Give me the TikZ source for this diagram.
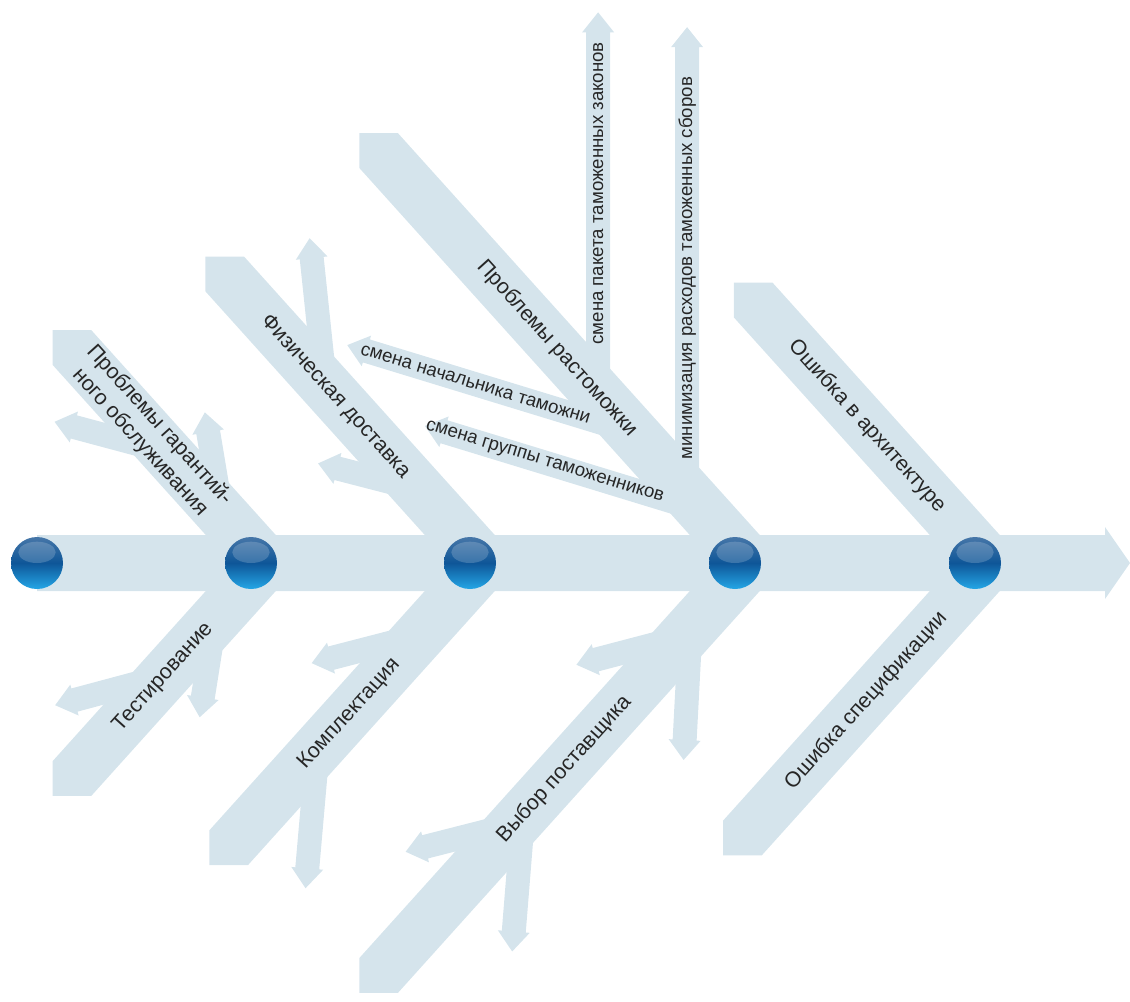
\documentclass[tikz,border=0pt]{standalone}
\usepackage{fontspec}
\setmainfont{Liberation Sans}
\usetikzlibrary{calc}

\definecolor{bonecol}{RGB}{213,228,236}
\definecolor{lblcol}{RGB}{38,38,38}
\definecolor{balltop}{RGB}{70,118,168}
\definecolor{ballmid}{RGB}{14,86,152}
\definecolor{ballbot}{RGB}{36,166,230}

\tikzset{
  bone/.style={fill=bonecol},
  bonelbl/.style={font=\fontsize{16}{19.5}\selectfont,text=lblcol,inner sep=0pt,align=center},
  twiglbl/.style={font=\fontsize{14}{16}\selectfont,text=lblcol,inner sep=0pt},
  ball/.style={circle,minimum size=39pt,inner sep=0pt,top color=balltop,bottom color=ballbot,middle color=ballmid,
    path picture={\fill[white,opacity=.18] ([yshift=8pt]path picture bounding box.center) ellipse (14pt and 8pt);}}
}

% bones: junction, length (pointed far end)
\newcommand\upbone[2]{%
  \path ($(#1)+(222:26)$) coordinate (ba) ++(132:#2) coordinate (ea)
        ($(#1)+(42:26)$) coordinate (bb) ++(132:#2) coordinate (eb);
  \fill[bone] (ba) -- (ea) -- (ea |- eb) -- (eb) -- (bb) -- cycle;}
\newcommand\lowbone[2]{%
  \path ($(#1)+(318:26)$) coordinate (ba) ++(228:#2) coordinate (ea)
        ($(#1)+(138:26)$) coordinate (bb) ++(228:#2) coordinate (eb);
  \fill[bone] (ba) -- (ea) -- (eb |- ea) -- (eb) -- (bb) -- cycle;}
% small arrow off a bone: base, angle, length
\newcommand\twig[3]{%
  \fill[bone,shift={(#1)},rotate=#2] (0,-12) -- (#3-20,-12) -- (#3-20,-16) -- (#3,0)
    -- (#3-20,16) -- (#3-20,12) -- (0,12) -- cycle;}

\begin{document}
\begin{tikzpicture}[x=0.75pt,y=0.75pt]
\useasboundingbox (0,0) rectangle (1130,-1001);

% spine
\coordinate (tail) at (37,-563);
\coordinate (head) at (1130,-563);
\fill[bone] ($(tail)+(0,28)$) -- ($(head)+(-25,28)$) -- ($(head)+(-25,36)$) -- (head)
  -- ($(head)+(-25,-36)$) -- ($(head)+(-25,-28)$) -- ($(tail)+(0,-28)$) -- cycle;

\coordinate (j2) at (266,-563);
\coordinate (j3) at (485,-563);
\coordinate (j4) at (750,-563);
\coordinate (j5) at (990,-563);

\upbone{j2}{290}
\upbone{j3}{389}
\upbone{j4}{555}
\upbone{j5}{354}
\lowbone{j2}{290}
\lowbone{j3}{383}
\lowbone{j4}{555}
\lowbone{j5}{370}

% twigs
\coordinate (s1) at ($(j4)+(132:176)$);
\coordinate (s2) at ($(j4)+(132:70)$);
\coordinate (s3) at ($(j4)+(132:227)$);
\coordinate (s4) at ($(j4)+(132:94)$);
\twig{s1}{163}{298}
\twig{s2}{163}{291}
\twig{s3}{90}{382}
\twig{s4}{90}{466}

\coordinate (u1) at ($(j2)+(132:150)$);
\coordinate (u2) at ($(j2)+(132:66)$);
\coordinate (u3) at ($(j2)+(228:152)$);
\coordinate (u4) at ($(j2)+(228:76)$);
\coordinate (u5) at ($(j3)+(132:239)$);
\coordinate (u6) at ($(j3)+(132:99)$);
\coordinate (u7) at ($(j3)+(228:97)$);
\coordinate (u8) at ($(j3)+(228:250)$);
\coordinate (u9) at ($(j4)+(228:99)$);
\coordinate (u10) at ($(j4)+(228:89)$);
\coordinate (u11) at ($(j4)+(228:351)$);
\coordinate (u12) at ($(j4)+(228:339)$);
\twig{u1}{165}{115}
\twig{u2}{99.5}{103}
\twig{u3}{195}{113}
\twig{u4}{261}{99}
\twig{u5}{96}{148}
\twig{u6}{165.5}{104}
\twig{u7}{194.5}{112}
\twig{u8}{265}{140}
\twig{u9}{194.7}{111}
\twig{u10}{267}{131}
\twig{u11}{194.3}{113}
\twig{u12}{265.4}{137}

% labels
\path (j2) -- ++(132:290) node[bonelbl,sloped,pos=.6] (l1) {Проблемы гарантий-\\ного обслуживания};
\path (j2) -- ++(228:290) node[bonelbl,sloped,pos=.53] (l2) {Тестирование};
\path (j3) -- ++(132:389) node[bonelbl,sloped,pos=.575] (l3) {Физическая доставка};
\path (j3) -- ++(228:383) node[bonelbl,sloped,pos=.53] (l4) {Комплектация};
\path (j4) -- ++(132:555) node[bonelbl,sloped,pos=.52] (l5) {Проблемы растоможки};
\path (j4) -- ++(228:555) node[bonelbl,sloped,pos=.5] (l6) {Выбор поставщика};
\path (j5) -- ++(132:354) node[bonelbl,sloped,pos=.52] (l7) {Ошибка в архитектуре};
\path (j5) -- ++(228:370) node[bonelbl,sloped,pos=.5] (l8) {Ошибка спецификации};

\path (s1) -- ++(163:298) node[twiglbl,sloped,pos=.55] (t1) {смена начальника таможни};
\path (s2) -- ++(163:291) node[twiglbl,sloped,pos=.57] (t2) {смена группы таможенников};
\node[twiglbl,rotate=90] (t3) at ($(s3)+(90:201)$) {смена пакета таможенных законов};
\node[twiglbl,rotate=90] (t4) at ($(s4)+(90:225)$) {минимизация расходов таможенных сборов};

% circles
\node[ball] (c1) at (tail) {};
\node[ball] (c2) at ($(j2)+(-15,0)$) {};
\node[ball] (c3) at ($(j3)+(-15,0)$) {};
\node[ball] (c4) at ($(j4)+(-15,0)$) {};
\node[ball] (c5) at ($(j5)+(-15,0)$) {};
\end{tikzpicture}
\end{document}
